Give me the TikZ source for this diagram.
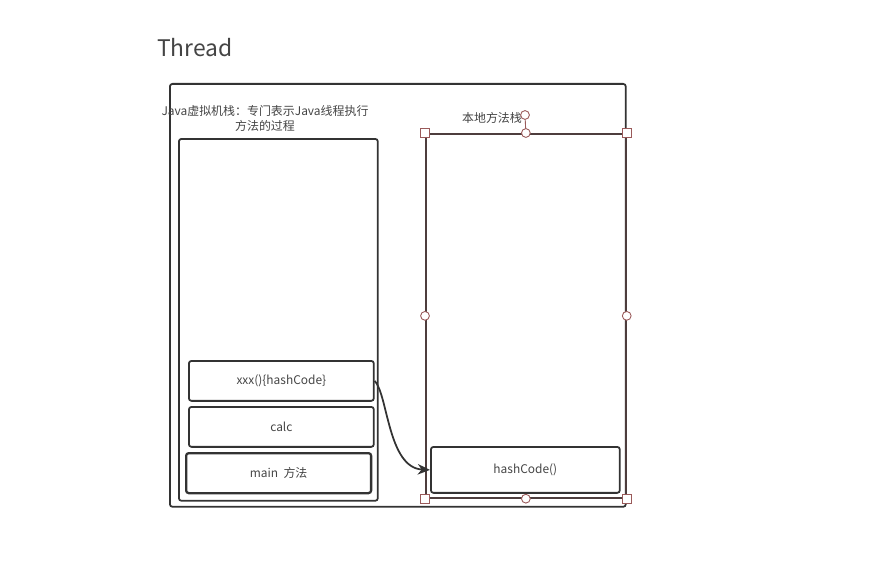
\documentclass[tikz,border=0pt]{standalone}
\usepackage{fontspec}
\setmainfont{Noto Sans CJK SC}
\usetikzlibrary{arrows.meta}
\definecolor{linegray}{HTML}{333333}
\definecolor{textgray}{HTML}{444444}
\definecolor{selred}{HTML}{9A5A5A}
\begin{document}
\begin{tikzpicture}[x=0.02cm,y=-0.02cm,
			every node/.style={font=\fontsize{6.8}{8.5}\selectfont,text=textgray},
			frame/.style={draw=linegray,line width=1pt,rounded corners=1.5pt,anchor=north west,inner sep=0pt},
			framebox/.style={frame,minimum width=3.7cm,minimum height=0.8cm},
			handle/.style={draw=selred,fill=white,line width=0.5pt,inner sep=0pt,minimum size=5pt},
			hdot/.style={handle,circle,minimum size=5pt}]
			\useasboundingbox (0,0) rectangle (871,581);
			\node[anchor=west,font=\fontsize{13}{15}\selectfont] (title) at (151,48) {Thread};
			\node[frame,minimum width=9.12cm,minimum height=8.46cm] (thread) at (169,83) {};
			\node[frame,minimum width=3.98cm,minimum height=7.24cm] (jvm) at (178,138) {};
			\node[align=center] (jvmlabel) at (265,118) {Java虚拟机栈：专门表示Java线程执行\\方法的过程};
			\node[framebox] (xxx) at (188,360) {xxx()\{hashCode\}};
			\node[framebox] (calc) at (188,406) {calc};
			\node[framebox,line width=1.3pt] (main) at (185,452) {main\ \ 方法};
			\node[frame,draw=linegray!75!selred,line width=1pt,rounded corners=0pt,minimum width=4cm,minimum height=7.28cm] (native) at (425,133) {};
			\node (nativelabel) at (492,118) {本地方法栈};
			\node[frame,minimum width=3.78cm,minimum height=0.92cm] (hash) at (430,446) {hashCode()};
			% selection handles
			\node[hdot] (rot) at (525,115) {};
			\draw[selred,line width=0.5pt] (native.north) -- (rot);
			\foreach \a in {north west,north east,south west,south east}
				\node[handle] at (native.\a) {};
			\foreach \a in {north,south,west,east}
				\node[hdot] at (native.\a) {};
			\draw[-{Stealth[length=7pt,width=6pt]},line width=1pt,linegray] (xxx.east) .. controls (388,395) and (388,468) .. (hash.west);
		\end{tikzpicture}
\end{document}
